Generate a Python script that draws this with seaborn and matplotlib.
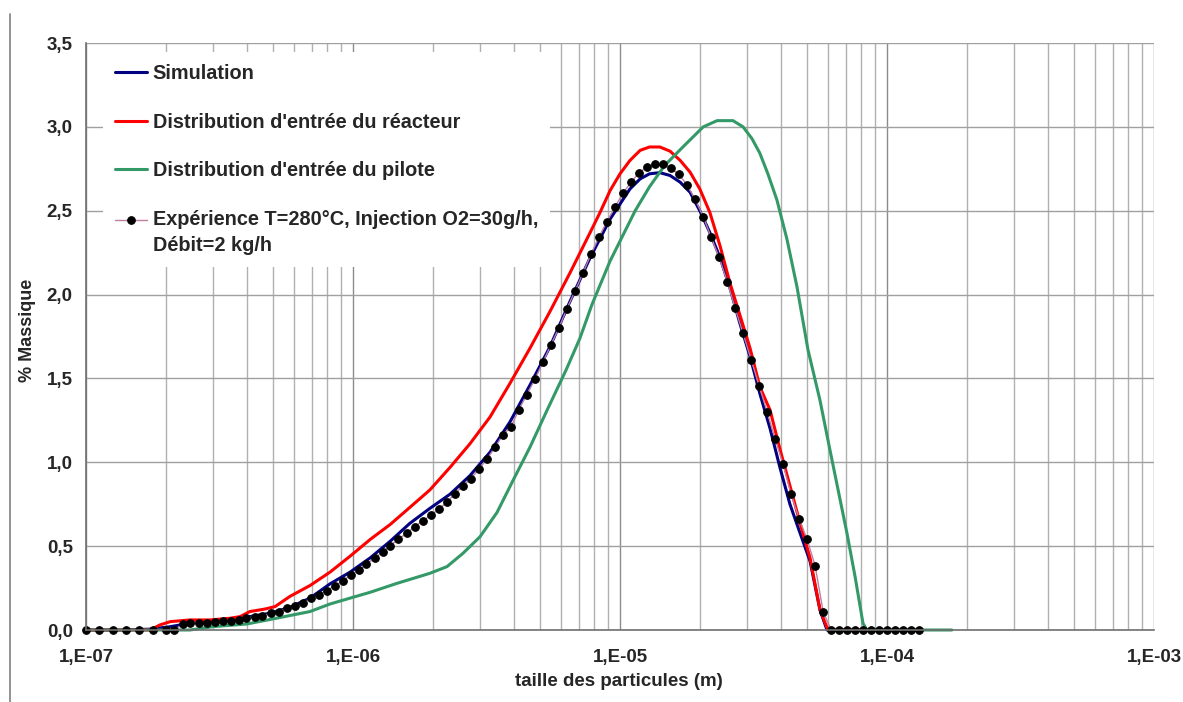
"""
Particle size distributions: simulation vs. reactor / pilot inlet vs. experiment.
Output: out.png
"""

import matplotlib
matplotlib.use("Agg")
import numpy as np
import pandas as pd
import matplotlib.pyplot as plt
import seaborn as sns
from matplotlib.lines import Line2D
from matplotlib.legend_handler import HandlerLine2D
from matplotlib.ticker import FuncFormatter, LogLocator, MultipleLocator, NullFormatter

# ---- data (sizes in micrometres, values in % mass) ----
sim_size_um = [0.100, 0.134, 0.174, 0.207, 0.245, 0.291, 0.346, 0.411, 0.489, 0.580,
               0.690, 0.820, 0.975, 1.16, 1.38, 1.63, 1.94, 2.31, 2.74, 3.26,
               3.87, 4.60, 5.47, 6.50, 7.73, 9.18, 10.9, 11.9, 12.9, 14.1,
               15.4, 16.8, 18.3, 19.9, 21.7, 23.7, 25.8, 28.1, 30.7, 33.4,
               36.5, 39.7, 43.3, 47.2, 51.5, 56.1, 59.6, 132]
sim_mass = [0, 0, 0.005, 0.02, 0.04, 0.05, 0.06, 0.08, 0.10, 0.135,
            0.19, 0.275, 0.345, 0.43, 0.53, 0.635, 0.725, 0.81, 0.92, 1.06,
            1.24, 1.46, 1.69, 1.96, 2.22, 2.45, 2.63, 2.69, 2.72, 2.727,
            2.71, 2.67, 2.61, 2.50, 2.37, 2.22, 2.04, 1.83, 1.63, 1.41,
            1.20, 0.97, 0.75, 0.58, 0.41, 0.12, 0, 0]

reactor_size_um = [0.100, 0.174, 0.189, 0.207, 0.245, 0.291, 0.346, 0.378, 0.411, 0.468,
                   0.511, 0.580, 0.690, 0.820, 0.975, 1.16, 1.38, 1.63, 1.94, 2.31,
                   2.74, 3.26, 3.87, 4.60, 5.47, 6.50, 7.73, 8.42, 9.18, 10.0,
                   10.9, 11.9, 12.9, 14.1, 15.4, 16.8, 18.3, 19.9, 21.7, 23.7,
                   25.8, 28.1, 30.7, 33.4, 36.5, 39.7, 43.3, 47.2, 51.5, 56.1,
                   60.1, 132]
reactor_mass = [0, 0, 0.03, 0.05, 0.06, 0.06, 0.07, 0.08, 0.11, 0.125,
                0.14, 0.20, 0.265, 0.345, 0.44, 0.54, 0.63, 0.73, 0.835, 0.97,
                1.11, 1.27, 1.47, 1.68, 1.90, 2.13, 2.37, 2.49, 2.62, 2.72,
                2.80, 2.86, 2.88, 2.88, 2.855, 2.80, 2.73, 2.63, 2.49, 2.29,
                2.07, 1.88, 1.68, 1.45, 1.31, 1.08, 0.86, 0.64, 0.43, 0.12,
                0, 0]

pilot_size_um = [0.100, 0.245, 0.299, 0.401, 0.501, 0.690, 0.820, 0.975, 1.16, 1.46,
                 1.94, 2.25, 2.58, 2.99, 3.46, 3.97, 4.60, 5.33, 6.28, 7.08,
                 7.85, 9.18, 11.4, 12.9, 14.7, 17.2, 20.5, 23.1, 26.5, 28.9,
                 31.2, 33.4, 35.8, 38.7, 42.2, 46.0, 50.6, 56.1, 61.2, 70.8,
                 75.9, 81.3, 84.1, 175]
pilot_mass = [0, 0, 0.02, 0.036, 0.066, 0.11, 0.155, 0.19, 0.225, 0.278,
              0.338, 0.378, 0.457, 0.556, 0.70, 0.89, 1.09, 1.31, 1.55, 1.74,
              1.94, 2.20, 2.50, 2.643, 2.77, 2.88, 3.00, 3.037, 3.037, 3.00,
              2.93, 2.843, 2.72, 2.564, 2.33, 2.047, 1.67, 1.37, 1.07, 0.577,
              0.32, 0.04, 0, 0]

exp_size_um = [0.100, 0.112, 0.126, 0.141, 0.158, 0.178,
               0.200, 0.214, 0.230, 0.246, 0.264, 0.283, 0.303, 0.325, 0.348, 0.373,
               0.399, 0.428, 0.458, 0.491, 0.526, 0.564, 0.604, 0.647, 0.694, 0.743,
               0.796, 0.853, 0.914, 0.980, 1.05, 1.12, 1.21, 1.29, 1.38, 1.48,
               1.59, 1.70, 1.83, 1.96, 2.10, 2.25, 2.41, 2.58, 2.76, 2.96,
               3.17, 3.40, 3.64, 3.90, 4.18, 4.48, 4.80, 5.14, 5.51, 5.90,
               6.32, 6.78, 7.26, 7.78, 8.34, 8.93, 9.57, 10.3, 11.0, 11.8,
               12.6, 13.5, 14.5, 15.5, 16.6, 17.8, 19.1, 20.5, 21.9, 23.5,
               25.2, 27.0, 28.9, 31.0, 33.2, 35.6, 38.1, 40.8, 43.7, 46.9,
               50.2, 53.8, 57.7, 61.8, 66.2, 70.9, 76.0, 81.4, 87.3, 93.5,
               100, 107, 115, 123, 132]
exp_mass = [0, 0, 0, 0, 0, 0,
            0, 0, 0.034, 0.044, 0.044, 0.044, 0.046, 0.056, 0.056, 0.060,
            0.070, 0.080, 0.085, 0.099, 0.110, 0.130, 0.143, 0.160, 0.190, 0.210,
            0.235, 0.262, 0.293, 0.328, 0.356, 0.393, 0.429, 0.467, 0.503, 0.542,
            0.577, 0.616, 0.652, 0.686, 0.721, 0.763, 0.813, 0.859, 0.902, 0.958,
            1.018, 1.089, 1.163, 1.209, 1.314, 1.404, 1.495, 1.596, 1.700, 1.800,
            1.914, 2.020, 2.127, 2.240, 2.342, 2.435, 2.522, 2.608, 2.670, 2.727,
            2.760, 2.777, 2.778, 2.753, 2.716, 2.656, 2.568, 2.465, 2.345, 2.222,
            2.077, 1.918, 1.769, 1.610, 1.456, 1.298, 1.139, 0.988, 0.811, 0.661,
            0.541, 0.383, 0.107, 0, 0, 0, 0, 0, 0, 0,
            0, 0, 0, 0, 0]

LABEL_SIM = "Simulation"
LABEL_REACTOR = "Distribution d'entrée du réacteur"
LABEL_PILOT = "Distribution d'entrée du pilote"
LABEL_EXP = "Expérience T=280°C, Injection O2=30g/h,\nDébit=2 kg/h"


def to_df(sizes_um, mass):
    return pd.DataFrame({"size": np.array(sizes_um) * 1e-6, "mass": mass})


class FirstLineHandler(HandlerLine2D):
    """Put the legend handle on the first line of a two-line label (Excel style)."""
    def __init__(self, shift, **kw):
        super().__init__(**kw)
        self.shift = shift

    def create_artists(self, *args, **kw):
        artists = super().create_artists(*args, **kw)
        for a in artists:
            a.set_ydata(np.asarray(a.get_ydata(), dtype=float) + self.shift)
        return artists


sns.set_style("white")
plt.rcParams["font.family"] = ["Liberation Sans", "DejaVu Sans"]
plt.rcParams["font.weight"] = "bold"

W, H = 1183, 702
fig = plt.figure(figsize=(W / 100, H / 100), dpi=100)
ax = fig.add_axes([86 / W, 1 - 630 / H, (1154 - 86) / W, (630 - 43) / H])

line_kw = dict(estimator=None, sort=False, ax=ax, linewidth=2.2, clip_on=False)
sns.lineplot(data=to_df(sim_size_um, sim_mass), x="size", y="mass", color="#000080", label=LABEL_SIM, **line_kw)
sns.lineplot(data=to_df(reactor_size_um, reactor_mass), x="size", y="mass", color="#FF0000", label=LABEL_REACTOR, **line_kw)
sns.lineplot(data=to_df(pilot_size_um, pilot_mass), x="size", y="mass", color="#339966", label=LABEL_PILOT, **line_kw)
sns.lineplot(data=to_df(exp_size_um, exp_mass), x="size", y="mass", color="#C07FA0", linewidth=1.0,
             marker="o", markersize=5.5, markerfacecolor="black", markeredgecolor="black",
             estimator=None, sort=False, ax=ax, label=LABEL_EXP, clip_on=False)

ax.set_xscale("log")
ax.set_xlim(1e-7, 1e-3)
ax.set_ylim(0, 3.5)

ax.xaxis.set_major_locator(LogLocator(base=10, numticks=10))
ax.xaxis.set_minor_locator(LogLocator(base=10, subs=np.arange(2, 10), numticks=20))
ax.xaxis.set_minor_formatter(NullFormatter())
ax.xaxis.set_major_formatter(FuncFormatter(lambda v, p: "1,E%+03d" % int(round(np.log10(v)))))
ax.yaxis.set_major_locator(MultipleLocator(0.5))
ax.yaxis.set_major_formatter(FuncFormatter(lambda v, p: f"{v:.1f}".replace(".", ",")))

ax.grid(True, which="major", axis="y", color="#A0A0A0", linewidth=1)
ax.grid(True, which="major", axis="x", color="#8C8C8C", linewidth=1)
ax.grid(True, which="minor", axis="x", color="#B0B0B0", linewidth=1)
ax.set_axisbelow(True)

for side in ["top", "right"]:
    ax.spines[side].set_visible(False)
for side in ["left", "bottom"]:
    ax.spines[side].set_color("#707070")
    ax.spines[side].set_linewidth(1.2)

ax.tick_params(axis="both", which="major", direction="out", length=4.5, width=1, color="#707070",
               labelsize=13.5, pad=5)
ax.tick_params(axis="x", which="major", pad=9)
ax.tick_params(axis="x", which="minor", length=0)
for lab in ax.get_xticklabels() + ax.get_yticklabels():
    lab.set_fontweight("bold")

ax.set_xlabel("taille des particules (m)", fontsize=13.5, fontweight="bold")
ax.set_ylabel("% Massique", fontsize=13, fontweight="bold")
ax.xaxis.label.set_va("center")
ax.yaxis.label.set_va("center")
ax.xaxis.set_label_coords(0.499, (630 - 682) / 587)
ax.yaxis.set_label_coords((27 - 86) / 1068, (630 - 330) / 587)

handles, labels = ax.get_legend_handles_labels()
leg = ax.legend(handles, labels, loc="upper left", bbox_to_anchor=(0.016, 0.985), borderaxespad=0,
                frameon=True, fancybox=False, framealpha=1, facecolor="white", edgecolor="none",
                prop={"size": 14.3, "weight": "bold"}, handlelength=1.6, handletextpad=0.3,
                labelspacing=1.5, borderpad=0.6,
                handler_map={handles[3]: FirstLineHandler(shift=9.5)})
leg.get_texts()[3].set_linespacing(1.45)

# chart-area border on the left
fig.add_artist(Line2D([10 / W, 10 / W], [0, 1 - 14 / H], color="#808080", linewidth=1.2))

fig.savefig("out.png", dpi=100)
